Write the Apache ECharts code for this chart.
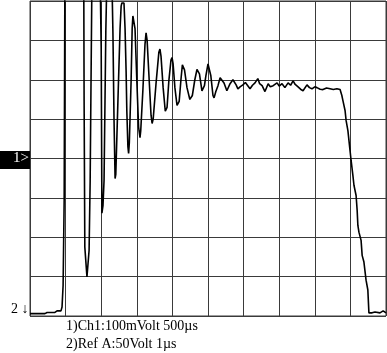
<!DOCTYPE html>
<html>
<head>
<meta charset="utf-8">
<script src="https://cdn.jsdelivr.net/npm/echarts@6/dist/echarts.min.js"></script>
<style>
  html, body { margin: 0; padding: 0; background: #fff; }
  #container { width: 387px; height: 353px; }
</style>
</head>
<body>
<div id="container"></div>
<script>
// [time, level] in screen divisions: 10 across, 8 up
var trace = [
    [0, 0.06], [0.42, 0.06], [0.48, 0.09], [0.70, 0.09], [0.76, 0.13], [0.87, 0.13],
    [0.90, 0.23], [0.93, 0.78], [0.96, 2.94], [0.98, 8.6], [1.51, 8.6], [1.52, 5.47],
    [1.54, 1.75], [1.60, 0.99], [1.66, 1.67], [1.69, 3.44], [1.74, 8.6],
    [1.97, 8.6], [2.00, 6.81], [2.02, 2.61], [2.05, 2.8], [2.08, 3.44], [2.13, 7.24], [2.16, 8.6],
    [2.30, 8.6], [2.33, 7.16], [2.36, 5.0], [2.39, 3.49], [2.41, 3.6], [2.47, 5.47],
    [2.53, 7.3], [2.56, 7.87], [2.58, 7.95], [2.64, 7.95], [2.67, 7.3], [2.70, 6.2],
    [2.72, 5.2], [2.75, 4.3], [2.77, 4.13], [2.79, 4.4], [2.84, 5.97], [2.87, 7.3],
    [2.89, 7.62], [2.93, 7.62], [2.95, 7.3], [3.00, 6.0], [3.05, 4.8], [3.09, 4.53],
    [3.11, 4.7], [3.17, 5.72], [3.23, 6.9], [3.26, 7.19], [3.29, 7.0], [3.33, 6.3],
    [3.40, 5.1], [3.43, 4.89], [3.46, 5.0], [3.54, 5.9], [3.62, 6.7], [3.65, 6.78],
    [3.68, 6.6], [3.74, 5.8], [3.80, 5.2], [3.82, 5.16], [3.85, 5.3], [3.90, 5.97],
    [3.96, 6.5], [3.99, 6.56], [4.02, 6.4], [4.07, 5.8], [4.13, 5.35], [4.16, 5.32],
    [4.19, 5.45], [4.24, 6.0], [4.28, 6.38], [4.30, 6.41], [4.34, 6.25], [4.41, 5.8],
    [4.49, 5.5], [4.52, 5.49], [4.56, 5.6], [4.63, 6.0], [4.69, 6.26], [4.72, 6.28],
    [4.76, 6.15], [4.83, 5.72], [4.86, 5.67], [4.90, 5.85], [4.94, 6.10], [5.00, 6.40],
    [5.03, 6.43], [5.08, 6.10], [5.14, 5.6], [5.17, 5.54], [5.22, 5.7], [5.28, 5.85],
    [5.34, 6.05], [5.37, 6.08], [5.45, 5.92], [5.53, 5.72], [5.62, 5.90], [5.70, 6.00],
    [5.79, 5.87], [5.84, 5.77], [5.90, 5.82], [5.98, 5.87], [6.05, 5.93], [6.10, 5.97],
    [6.18, 5.77], [6.25, 5.86], [6.32, 5.92], [6.40, 6.03], [6.45, 5.9], [6.52, 5.85],
    [6.60, 5.70], [6.69, 5.90], [6.75, 5.82], [6.83, 5.85], [6.94, 5.92], [7.00, 5.84],
    [7.08, 5.90], [7.16, 5.80], [7.25, 5.92], [7.32, 5.86], [7.39, 5.97], [7.45, 5.88],
    [7.53, 5.82], [7.60, 5.76], [7.67, 5.72], [7.78, 5.87], [7.85, 5.80], [7.92, 5.77],
    [8.00, 5.82], [8.06, 5.80], [8.15, 5.76], [8.23, 5.75], [8.33, 5.79], [8.43, 5.77],
    [8.52, 5.75], [8.62, 5.77], [8.71, 5.75], [8.76, 5.60], [8.79, 5.47], [8.85, 5.22],
    [8.88, 4.96], [8.93, 4.71], [8.99, 4.20], [9.02, 3.95], [9.07, 3.57], [9.10, 3.32],
    [9.16, 3.06], [9.19, 2.68], [9.21, 2.30], [9.24, 2.13], [9.30, 1.92], [9.33, 1.54],
    [9.38, 1.37], [9.44, 0.91], [9.49, 0.66], [9.52, 0.08], [9.61, 0.08], [9.69, 0.10],
    [9.83, 0.08], [9.92, 0.13], [10.0, 0.08]
];
var legendLines = ['1)Ch1:100mVolt 500\u00b5s', '2)Ref A:50Volt 1\u00b5s'];

var dom = document.getElementById('container');
var myChart = echarts.init(dom);

var gridLine = { show: true, lineStyle: { color: '#3a3a3a', width: 1 } };
var serif = '"Liberation Serif", "DejaVu Serif", serif';

var option = {
    animation: false,
    backgroundColor: '#fff',
    grid: {
        left: 30, top: 1, width: 356, height: 315,
        show: true, borderColor: '#3a3a3a', borderWidth: 1
    },
    xAxis: {
        type: 'value', min: 0, max: 10, interval: 1,
        axisLine: { show: false }, axisTick: { show: false }, axisLabel: { show: false },
        splitLine: gridLine
    },
    yAxis: {
        type: 'value', min: 0, max: 8, interval: 1,
        axisLine: { show: false }, axisTick: { show: false }, axisLabel: { show: false },
        splitLine: gridLine
    },
    graphic: [
        { type: 'rect', shape: { x: 0, y: 151, width: 30, height: 18 }, style: { fill: '#000' } },
        {
            type: 'text', left: 13, top: 151,
            style: { text: '1>', fill: '#fff', font: '15px ' + serif }
        },
        {
            type: 'text', left: 11, top: 302,
            style: { text: '2 \u2193', fill: '#000', font: '14px ' + serif }
        },
        {
            type: 'text', left: 66, top: 319,
            style: { text: legendLines[0], fill: '#000', font: '14px ' + serif }
        },
        {
            type: 'text', left: 66, top: 337,
            style: { text: legendLines[1], fill: '#000', font: '14px ' + serif }
        }
    ],
    series: [{
        type: 'line',
        data: trace,
        showSymbol: false,
        clip: true,
        lineStyle: { color: '#000', width: 1.6 }
    }]
};

myChart.setOption(option);
</script>
</body>
</html>
